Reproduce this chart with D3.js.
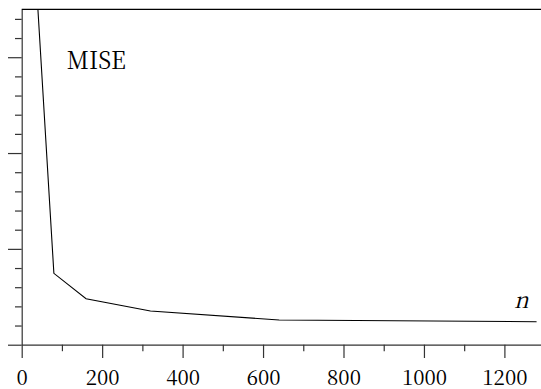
<!DOCTYPE html>
<html>
<head>
<meta charset="utf-8">
<script src="https://cdn.jsdelivr.net/npm/d3@7"></script>
<style>
  html, body { margin: 0; padding: 0; background: #fff; }
  svg { display: block; }
</style>
</head>
<body>
<svg id="chart" width="541" height="389"></svg>
<script>
// ---- data ----
const nValues = [40, 80, 160, 320, 640, 1280];
const miseValues = [3.52, 0.745, 0.48, 0.352, 0.258, 0.24];
const xMajorTicks = [0, 200, 400, 600, 800, 1000, 1200];
const xMinorTicks = [100, 300, 500, 700, 900, 1100];
const yMajorTicks = [0, 1, 2, 3];
const yMinorTicks = [0.2,0.4,0.6,0.8,1.2,1.4,1.6,1.8,2.2,2.4,2.6,2.8,3.2,3.4];
const seriesLabel = "MISE";
const xLabel = "n";

(function () {
const FONT = "'Noto Serif CJK SC', 'Liberation Serif', serif";
// ---- layout ----
const mLeft = 21.7, mRight = 541, mTop = 9.3, mBottom = 344.7;

const x = d3.scaleLinear().domain([0, 1291]).range([mLeft, mRight]);
const y = d3.scaleLinear().domain([0, 3.5]).range([mBottom, mTop]);

const svg = d3.select("#chart");

svg.append("defs").append("clipPath").attr("id", "plotclip")
  .append("rect").attr("x", mLeft).attr("y", mTop)
  .attr("width", mRight - mLeft).attr("height", mBottom - mTop);

const axisColor = "#333";

// x axis minor ticks
const gxMinor = svg.append("g").attr("transform", `translate(0,${mBottom})`)
  .call(d3.axisBottom(x).tickValues(xMinorTicks).tickSize(6.5).tickSizeOuter(0).tickFormat(""));
gxMinor.select(".domain").remove();

// x axis major
const gx = svg.append("g").attr("transform", `translate(0,${mBottom})`)
  .call(d3.axisBottom(x).tickValues(xMajorTicks).tickSize(13.3).tickSizeOuter(0).tickFormat(d3.format("d")));
gx.attr("font-family", null).attr("font-size", null);
gx.selectAll("text")
  .style("font-family", FONT).style("font-size", "20.5px")
  .attr("fill", "#000").attr("dy", 0).attr("y", 40);

// y axis minor
const gyMinor = svg.append("g").attr("transform", `translate(${mLeft},0)`)
  .call(d3.axisLeft(y).tickValues(yMinorTicks).tickSize(6.7).tickSizeOuter(0).tickFormat(""));
gyMinor.select(".domain").remove();

// y axis major
const gy = svg.append("g").attr("transform", `translate(${mLeft},0)`)
  .call(d3.axisLeft(y).tickValues(yMajorTicks).tickSize(13.7).tickSizeOuter(0).tickFormat(""));

svg.selectAll(".tick line, .domain").attr("stroke", axisColor).attr("stroke-width", 1.2);

// top border
svg.append("line")
  .attr("x1", mLeft).attr("x2", mRight)
  .attr("y1", y(3.5)).attr("y2", y(3.5))
  .attr("stroke", "#000").attr("stroke-width", 1.3);

// data line
const line = d3.line().x((d, i) => x(nValues[i])).y(d => y(d));
svg.append("path")
  .datum(miseValues)
  .attr("clip-path", "url(#plotclip)")
  .attr("d", line)
  .attr("fill", "none")
  .attr("stroke", "#000")
  .attr("stroke-width", 1.1);

// labels
svg.append("text")
  .attr("x", x(112)).attr("y", y(2.88))
  .style("font-family", FONT).style("font-size", "25px")
  .attr("textLength", 59).attr("lengthAdjust", "spacingAndGlyphs")
  .attr("fill", "#000")
  .text(seriesLabel);

svg.append("text")
  .attr("x", x(1224)).attr("y", y(0.38))
  .style("font-family", FONT).style("font-size", "22px")
  .style("font-style", "italic")
  .attr("fill", "#000")
  .text(xLabel);
})();
</script>
</body>
</html>
